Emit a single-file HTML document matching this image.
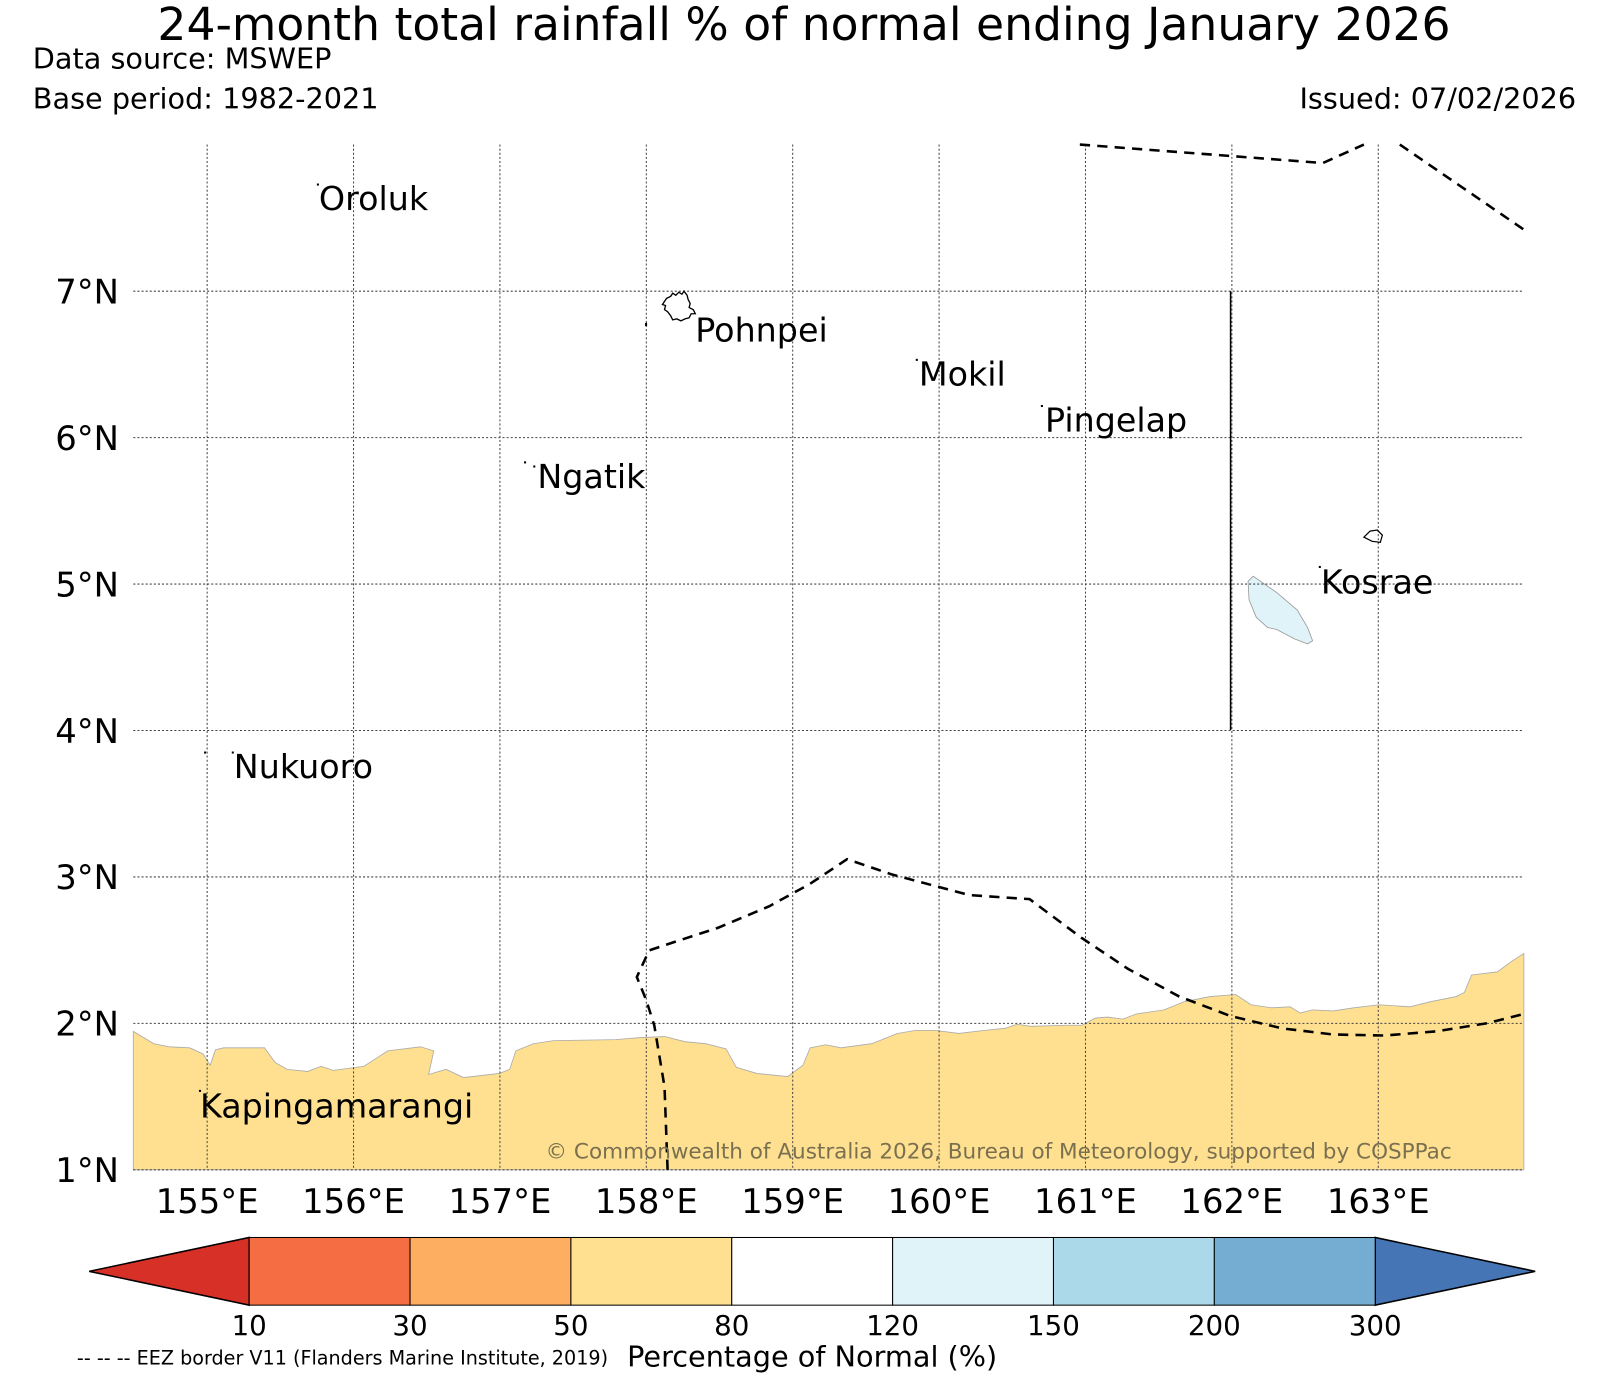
<!DOCTYPE html>
<html><head><meta charset="utf-8"><style>
html,body{margin:0;padding:0;background:#fff;}
svg{display:block;font-family:"DejaVu Sans","Liberation Sans",sans-serif;}
</style></head><body>
<svg id="chart" width="1609" height="1380" viewBox="0 0 1569 1346" preserveAspectRatio="none" xmlns="http://www.w3.org/2000/svg">
<text x="784" y="39" font-size="44.5" text-anchor="middle">24-month total rainfall % of normal ending January 2026</text>
<text x="32" y="67" font-size="28">Data source: MSWEP</text>
<text x="32" y="106" font-size="28">Base period: 1982-2021</text>
<text x="1537" y="106" font-size="28" text-anchor="end">Issued: 07/02/2026</text>
<g id="map">
<path fill="#fee090" stroke="#aaa" stroke-width="0.8" d="M130,1006 L150,1018 L165,1021 L185,1022 L198,1028 L205,1039 L210,1024 L218,1022 L258,1022 L268,1036 L280,1043 L300,1045 L313,1040 L325,1044 L355,1040 L378,1025 L410,1021 L423,1025 L418,1048 L435,1043 L452,1051 L487,1047 L497,1043 L503,1025 L520,1018 L540,1015 L600,1014 L625,1012 L648,1011 L668,1016 L688,1018 L708,1023 L718,1041 L738,1047 L768,1050 L783,1039 L790,1022 L805,1019 L820,1022 L850,1018 L875,1008 L893,1005 L912,1005 L935,1008 L960,1005 L980,1003 L992,999 L1005,1001 L1040,1000 L1055,1000 L1068,993 L1080,992 L1095,994 L1108,989 L1135,985 L1155,977 L1180,972 L1205,970 L1220,980 L1240,983 L1258,982 L1268,988 L1280,985 L1300,986 L1320,983 L1345,980 L1375,982 L1395,977 L1420,972 L1428,968 L1435,951 L1460,948 L1475,937 L1486,930 L1486,1141 L130,1141 Z"/>
<path fill="#e0f3f8" stroke="#999" stroke-width="0.8" d="M1217,567 L1222,562 L1245,578 L1265,595 L1275,612 L1280,625 L1275,628 L1262,623 L1245,614 L1236,612 L1225,602 L1218,585 Z"/>
<g id="grid" stroke="#444" stroke-width="1" stroke-dasharray="2,2" fill="none"></g>
<path fill="none" stroke="#000" stroke-width="1.3" d="M650,291 L654,289 L656,286 L659,288 L662,285 L665,287 L667,284 L670,288 L671,292 L673,296 L672,300 L676,302 L678,306 L674,306 L672,310 L668,311 L664,313 L660,311 L656,312 L654,308 L651,304 L648,302 L649,298 L646,297 L648,294 Z"/>
<path fill="none" stroke="#000" stroke-width="1.2" d="M1330,524 L1336,518 L1343,517 L1348,522 L1346,529 L1338,528 Z"/>
<g fill="#000">
<rect x="309" y="179" width="2" height="2"/><rect x="629" y="315" width="2" height="3"/><rect x="893" y="350" width="2" height="2"/>
<rect x="1015" y="395" width="2" height="2"/><rect x="511" y="450" width="2" height="2"/><rect x="520" y="454" width="2" height="2"/>
<rect x="1286" y="552" width="2" height="2"/><rect x="199" y="733" width="2" height="2"/><rect x="226" y="733" width="2" height="2"/>
<rect x="194" y="1063" width="2" height="2"/>
</g>
<path fill="none" stroke="#000" stroke-width="2.5" stroke-dasharray="10,7" d="M651,1141 L648,1060 L638,1000 L630,975 L621,953 L633,927 L660,918 L700,905 L750,884 L790,862 L826,838 L870,853 L945,873 L1004,877 L1055,915 L1100,945 L1150,972 L1200,991 L1250,1003 L1300,1009 L1350,1010 L1400,1006 L1450,998 L1486,989"/>
<path fill="none" stroke="#000" stroke-width="2.5" stroke-dasharray="10,7" d="M1053,141 L1290,159 L1330,141 M1365,141 L1486,224"/>
<line x1="1200" y1="284" x2="1200" y2="712" stroke="#000" stroke-width="1.5"/>
<g font-size="32.5" fill="#000">
<text x="311" y="205">Oroluk</text>
<text x="678" y="333">Pohnpei</text>
<text x="896" y="376">Mokil</text>
<text x="1019" y="421">Pingelap</text>
<text x="524" y="476">Ngatik</text>
<text x="1288" y="579">Kosrae</text>
<text x="228" y="759">Nukuoro</text>
<text x="195" y="1090">Kapingamarangi</text>
</g>
<text x="532" y="1130" font-size="21" fill="#7a7050">© Commonwealth of Australia 2026, Bureau of Meteorology, supported by COSPPac</text>
<g id="ticks" font-size="33"></g>
</g>
<g id="colorbar"></g>
<text x="792" y="1333" font-size="28" text-anchor="middle">Percentage of Normal (%)</text>
<text x="75" y="1331" font-size="18.7">-- -- -- EEZ border V11 (Flanders Marine Institute, 2019)</text>
</svg>
<script>
const lonTicks=[155,156,157,158,159,160,161,162,163];
const latTicks=[1,2,3,4,5,6,7];
const cbBounds=[10,30,50,80,120,150,200,300];
const cbColors=["#f46d43","#fdae61","#fee090","#ffffff","#e0f3f8","#abd9e9","#74add1"];
const cbLow="#d73027", cbHigh="#4575b4";
const NS="http://www.w3.org/2000/svg";
const X0=130,X1=1486,Y0=141,Y1=1141;
function xLon(l){return 202+(l-155)*142.75;}
function yLat(l){return 1141-(l-1)*142.83;}
function mk(t,a,p){const e=document.createElementNS(NS,t);for(const k in a)e.setAttribute(k,a[k]);p.appendChild(e);return e;}
const grid=document.getElementById('grid'),ticks=document.getElementById('ticks');
lonTicks.forEach(l=>{
 const ln=mk('line',{x1:xLon(l),x2:xLon(l),y1:Y0,y2:Y1},grid);
 
 
 const t=mk('text',{x:xLon(l),y:1183,'text-anchor':'middle'},ticks);t.textContent=l+'°E';
 
 
});
latTicks.forEach(l=>{
 const ln=mk('line',{x1:X0,x2:X1,y1:yLat(l),y2:yLat(l)},grid);
 
 
 const t=mk('text',{x:116,y:yLat(l)+12,'text-anchor':'end'},ticks);t.textContent=l+'°N';
 
 
});
const cb=document.getElementById('colorbar');
const CL=243,CR=1341,CT=1207,CB=1273;
function cx(i){return CL+i*(CR-CL)/(cbBounds.length-1);}
const lt=mk('polygon',{points:`87,1240 ${CL},${CT} ${CL},${CB}`,fill:cbLow,stroke:'#000','stroke-width':1.5},cb);


const rt=mk('polygon',{points:`1497,1240 ${CR},${CT} ${CR},${CB}`,fill:cbHigh,stroke:'#000','stroke-width':1.5},cb);


cbColors.forEach((c,i)=>{
 const r=mk('rect',{x:cx(i),y:CT,width:cx(i+1)-cx(i),height:CB-CT,fill:c,stroke:'#000','stroke-width':1},cb);
 
 
});
cbBounds.forEach((b,i)=>{
 const t=mk('text',{x:cx(i),y:1302,'text-anchor':'middle','font-size':27},cb);t.textContent=b;
 
 
});
</script>
</body></html>
